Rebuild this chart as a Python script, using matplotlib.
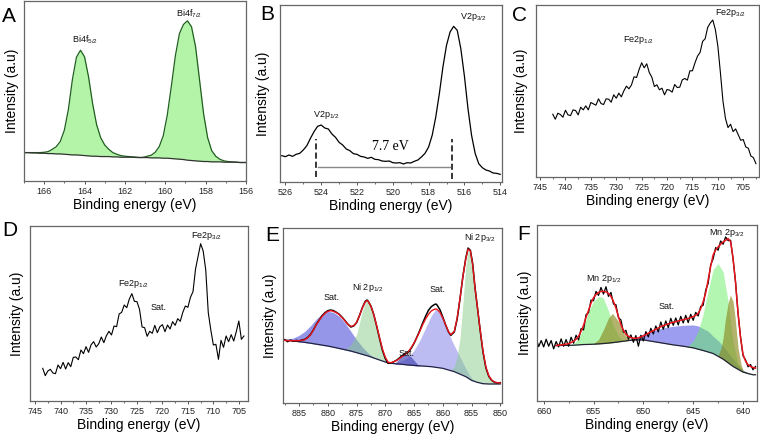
import numpy as np
import matplotlib
matplotlib.use("Agg")
import matplotlib.pyplot as plt
from matplotlib.ticker import MultipleLocator

plt.rcParams['font.family'] = ['Liberation Sans', 'DejaVu Sans']
plt.rcParams['mathtext.fontset'] = 'custom'
plt.rcParams['mathtext.rm'] = 'Liberation Sans'
plt.rcParams['mathtext.default'] = 'rm'

# ---- A: Bi 4f ----
a_x = [167.0, 166.8, 166.6, 166.4, 166.2, 166.0, 165.8, 165.6, 165.4, 165.2,
       165.0, 164.8, 164.6, 164.4, 164.2, 164.0, 163.8, 163.6, 163.4, 163.2,
       163.0, 162.8, 162.6, 162.4, 162.2, 162.0, 161.8, 161.6, 161.4, 161.2,
       161.0, 160.9, 160.7, 160.5, 160.3, 160.1, 159.9, 159.7, 159.5, 159.3,
       159.1, 158.9, 158.7, 158.5, 158.3, 158.1, 157.9, 157.7, 157.5, 157.3,
       157.1, 156.9, 156.7, 156.5, 156.3, 156.1, 156.0]
a_int = [86, 86, 86, 86, 86, 87, 89, 96, 104, 120,
         154, 217, 308, 375, 396, 376, 315, 234, 170, 131,
         109, 96, 86, 81, 77, 75, 74, 73, 72, 71,
         73, 75, 78, 87, 104, 137, 200, 287, 379, 446,
         474, 485, 467, 407, 305, 203, 131, 92, 75, 66,
         61, 59, 58, 57, 56, 56, 56]
a_base = [86, 86, 85, 85, 84, 84, 83, 83, 82, 82,
          81, 80, 79, 79, 78, 77, 76, 75, 75, 74,
          74, 74, 73, 73, 72, 72, 72, 72, 71, 71,
          71, 71, 70, 70, 70, 69, 69, 68, 67, 66,
          65, 63, 62, 61, 60, 59, 59, 58, 58, 58,
          57, 57, 57, 57, 56, 56, 56]

# ---- B: V 2p ----
b_x = np.round(np.arange(526.2, 513.95, -0.2), 1)
b_int = [79, 76, 81, 77, 83, 86, 96, 109, 131, 151,
         167, 171, 162, 159, 144, 134, 119, 111, 99, 94,
         85, 83, 77, 75, 71, 74, 68, 67, 63, 62,
         63, 58, 57, 58, 54, 58, 57, 62, 66, 75,
         86, 105, 140, 195, 265, 345, 410, 450, 467, 455,
         400, 318, 220, 140, 86, 55, 43, 36, 33, 27,
         26, 23]

# ---- C: Fe 2p ----
c_x = np.arange(742.5, 702.4, -0.5)
c_int = [188, 173, 191, 187, 179, 200, 186, 184, 201, 199,
         186, 209, 201, 213, 201, 223, 219, 215, 234, 220,
         217, 234, 233, 224, 246, 236, 251, 240, 258, 272,
         264, 276, 300, 298, 322, 342, 327, 339, 313, 299,
         271, 276, 261, 266, 246, 262, 260, 254, 277, 268,
         269, 291, 295, 290, 318, 318, 342, 362, 373, 406,
         414, 448, 461, 470, 442, 392, 313, 228, 175, 148,
         158, 136, 144, 127, 110, 112, 90, 86, 63, 58,
         40]

# ---- D: Fe 2p ----
d_x = np.arange(743.5, 703.9, -0.5)
d_int = [98, 76, 90, 95, 84, 82, 108, 97, 116, 96,
         115, 103, 131, 132, 124, 153, 142, 163, 146, 169,
         178, 162, 172, 192, 175, 196, 209, 198, 225, 223,
         261, 266, 288, 280, 306, 322, 299, 298, 275, 222,
         220, 194, 209, 203, 227, 205, 223, 229, 208, 228,
         216, 238, 227, 247, 239, 266, 285, 281, 311, 328,
         396, 434, 472, 450, 394, 265, 213, 168, 170, 125,
         182, 161, 195, 178, 199, 180, 208, 240, 185, 195]

# ---- E: Ni 2p ----
e_x = [887.5, 887, 886.5, 886, 885.5, 885, 884.5, 884, 883.5, 883,
       882.5, 882, 881.5, 881, 880.5, 880, 879.5, 879, 878.5, 878,
       877.5, 877, 876.5, 876, 875.5, 875, 874.5, 874, 873.5, 873.2,
       873, 872.5, 872, 871.5, 871, 870.5, 870, 869.5, 869, 868.5,
       868, 867.5, 867, 866.5, 866, 865.5, 865, 864.5, 864, 863.5,
       863, 862.5, 862, 861.5, 861.2, 861, 860.5, 860, 859.5, 859,
       858.6, 858, 857.5, 857, 856.5, 856, 855.6, 855.2, 854.8, 854.4,
       854, 853.5, 853, 852.5, 852, 851.5, 851, 850.5, 850]
e_int = [190, 184, 189, 185, 188, 186, 189, 191, 197, 206,
         220, 236, 249, 262, 271, 277, 279, 277, 272, 266,
         257, 247, 236, 228, 231, 241, 262, 286, 305, 309,
         306, 291, 265, 230, 193, 158, 133, 119, 120, 124,
         129, 136, 143, 149, 153, 164, 179, 198, 218, 240,
         260, 278, 289, 295, 297, 294, 280, 258, 234, 213,
         203, 213, 252, 313, 380, 435, 465, 458, 418, 347,
         290, 218, 152, 105, 80, 68, 62, 60, 61]
e_fit = [188, 187, 187, 187, 187, 187, 188, 190, 196, 205,
         219, 235, 248, 260, 269, 275, 277, 275, 271, 265,
         256, 246, 236, 230, 232, 242, 262, 285, 303, 307,
         305, 290, 265, 232, 196, 162, 137, 122, 121, 124,
         128, 134, 140, 146, 154, 166, 180, 197, 215, 235,
         252, 266, 276, 281, 282, 281, 272, 255, 234, 214,
         205, 215, 255, 315, 380, 432, 462, 456, 415, 345,
         290, 220, 155, 108, 82, 69, 63, 61, 60]
e_bg_x = [887.5, 884, 880, 876, 873, 870, 869.5, 869, 866, 862,
          860, 858, 856, 855, 854, 853, 852, 850]
e_bg = [189, 182, 171, 156, 141, 123, 120, 119, 114, 109,
        104, 94, 79, 68, 62, 58, 57, 57]

# E fitted components: energy, upper edge, background under it
e_sat1_x = [887.5, 886, 885, 884, 883, 882, 881, 880, 879, 878,
            877, 876, 875, 874, 873, 872, 871, 870]
e_sat1_top = [190, 195, 203, 215, 232, 252, 268, 275, 272, 260,
              240, 215, 190, 168, 150, 137, 130, 124]
e_sat1_bot = [189, 186, 183, 181, 179, 176, 173, 170, 167, 163,
              159, 155, 151, 146, 141, 135, 129, 123]
e_p12_x = [877, 876, 875, 874.5, 874, 873.5, 873.2, 873, 872.5, 872,
           871.5, 871, 870.5, 870, 869.5, 869]
e_p12_top = [160, 175, 205, 240, 275, 302, 308, 305, 285, 255,
             218, 183, 153, 133, 122, 119]
e_p12_bot = [159, 155, 151, 149, 146, 144, 142, 141, 138, 135,
             132, 129, 126, 123, 120, 119]
e_sat2_x = [868.5, 868, 867.5, 867, 866.5, 866, 865.5, 865, 864.5, 864]
e_sat2_top = [118, 125, 135, 143, 147, 145, 138, 128, 118, 111]
e_sat2_bot = [118, 117, 117, 116, 115, 114, 113, 112, 111, 111]
e_sat3_x = [868.5, 868, 867, 866, 865, 864, 863, 862, 861.3, 861,
            860.5, 860, 859.5, 859, 858.5, 858, 857.5, 857, 856.5, 856,
            855.5, 855, 854.5, 854, 853.5, 853]
e_sat3_top = [119, 121, 127, 138, 158, 188, 225, 262, 280, 279,
              270, 256, 235, 212, 190, 172, 155, 138, 120, 104,
              88, 75, 67, 62, 59, 57]
e_sat3_bot = [118, 117, 116, 114, 112, 111, 110, 109, 108, 107,
              106, 104, 102, 100, 97, 94, 91, 88, 84, 79,
              74, 68, 65, 62, 60, 58]
e_p32_x = [858.5, 858, 857.5, 857, 856.5, 856, 855.6, 855.2, 855, 854.5,
           854, 853.5, 853, 852.5, 852, 851.5, 851, 850]
e_p32_top = [100, 110, 140, 195, 300, 410, 458, 446, 425, 365,
             295, 220, 150, 105, 80, 66, 60, 57]
e_p32_bot = [97, 94, 91, 88, 84, 79, 75, 70, 68, 65,
             62, 60, 58, 57, 57, 57, 57, 57]

# ---- F: Mn 2p ----
f_x = np.arange(660.75, 638.7, -0.25)
f_int = [188, 164, 182, 163, 186, 165, 182, 157, 179, 163,
         187, 165, 185, 165, 192, 174, 198, 184, 218, 214,
         260, 266, 304, 302, 330, 318, 342, 322, 344, 315,
         327, 292, 290, 251, 244, 207, 213, 186, 199, 177,
         197, 165, 198, 181, 209, 193, 219, 202, 226, 208,
         238, 216, 241, 221, 249, 228, 250, 229, 255, 235,
         258, 236, 261, 243, 267, 256, 285, 288, 334, 354,
         410, 428, 462, 454, 482, 472, 494, 483, 484, 427,
         358, 263, 193, 136, 124, 103, 110, 94, 104]
f_fit_x = np.arange(658.75, 638.7, -0.25)
f_fit = [167, 168, 169, 170, 171, 173, 176, 180, 186, 195,
         210, 228, 252, 273, 295, 311, 321, 327, 330, 330,
         329, 324, 315, 300, 280, 254, 230, 212, 201, 195,
         191, 189, 189, 190, 193, 196, 200, 204, 208, 212,
         216, 220, 224, 227, 230, 232, 235, 237, 239, 241,
         243, 245, 247, 249, 251, 254, 258, 264, 278, 299,
         325, 365, 405, 440, 455, 464, 472, 479, 484, 489,
         480, 430, 355, 265, 190, 140, 120, 109, 104, 101,
         99]
f_bg_x = [658.75, 657, 656, 655, 654, 653, 652, 651, 650, 649,
          648, 647, 646, 645, 644, 643, 642, 641, 640, 639, 638.75]
f_bg = [167, 168, 170, 171, 173, 176, 180, 184, 184, 179,
        174, 169, 165, 160, 152, 143, 126, 104, 87, 79, 79]

f_g1_x = [657.5, 657, 656.5, 656, 655.5, 655, 654.5, 654.25, 654, 653.5,
          653, 652.5, 652, 651.5, 651]
f_g1_top = [169, 173, 188, 222, 270, 300, 314, 314, 309, 272,
            225, 195, 182, 182, 184]
f_g1_bot = [168, 168, 169, 170, 170, 171, 172, 173, 173, 174,
            176, 178, 180, 182, 184]
f_o1_x = [655, 654.5, 654, 653.5, 653.1, 652.5, 652, 651.5, 651, 650.5]
f_o1_top = [173, 185, 215, 250, 264, 240, 205, 188, 185, 184]
f_o1_bot = [171, 172, 173, 174, 176, 178, 180, 182, 184, 184]
f_sat_x = [651.5, 651, 650.5, 650, 649, 648, 647, 646, 645, 644.5,
           644, 643.5, 643, 642.5, 642, 641.5, 641, 640.5, 640, 639.5, 639]
f_sat_top = [183, 188, 195, 202, 212, 220, 225, 228, 229, 226,
             218, 210, 195, 182, 165, 146, 127, 108, 93, 84, 79]
f_sat_bot = [182, 184, 184, 184, 179, 174, 169, 165, 160, 156,
             152, 148, 143, 136, 126, 115, 104, 95, 87, 82, 79]
f_g2_x = [646, 645.5, 645, 644.5, 644, 643.5, 643, 642.5, 642, 641.5,
          641, 640.5, 640, 639.5, 639]
f_g2_top = [166, 167, 180, 211, 262, 332, 396, 414, 389, 300,
            175, 112, 92, 85, 80]
f_g2_bot = [165, 162, 160, 156, 152, 148, 143, 136, 126, 115,
            104, 95, 87, 82, 79]
f_o2_x = [642.5, 642.2, 642, 641.8, 641.5, 641.27, 641, 640.8, 640.5, 640.2,
          640, 639.5, 639]
f_o2_top = [138, 160, 190, 240, 295, 319, 300, 252, 160, 110, 92, 83, 79]
f_o2_bot = [136, 130, 126, 121, 115, 109, 104, 100, 95, 90, 87, 82, 79]

W, H = 760, 437
fig = plt.figure(figsize=(7.6, 4.37), dpi=100)


def make_ax(left, top, right, bottom, xlim, ylim, major, minor, pad):
    ax = fig.add_axes([left / W, 1 - bottom / H, (right - left) / W, (bottom - top) / H])
    ax.set_xlim(*xlim)
    ax.set_ylim(*ylim)
    ax.xaxis.set_major_locator(MultipleLocator(major))
    ax.xaxis.set_minor_locator(MultipleLocator(minor))
    ax.tick_params(axis='x', which='major', direction='out', length=2.5, width=0.7,
                   colors='#555555', labelcolor='#222222', labelsize=6.5, pad=2)
    ax.tick_params(axis='x', which='minor', direction='out', length=1.5, width=0.6,
                   colors='#555555')
    ax.tick_params(axis='y', left=False, labelleft=False)
    for s in ax.spines.values():
        s.set_color('#666666')
        s.set_linewidth(0.9)
    ax.set_xlabel('Binding energy (eV)', fontsize=10, labelpad=1.5)
    ax.set_ylabel('Intensity (a.u)', fontsize=10, labelpad=pad)
    return ax


lab = dict(fontsize=6.5, ha='center', va='center', color='#111111')

# A
ax = make_ax(24, 1, 246, 181, (167, 156), (0, 545), 2, 1, 3.5)
ax.fill_between(a_x, a_base, a_int, color='#b4f4a8', lw=0)
ax.plot(a_x, a_int, color='#1f5f1f', lw=0.9)
ax.plot(a_x, a_base, color='#333333', lw=0.9)
ax.text(163.98, 428, 'Bi4f$_{5/2}$', **lab)
ax.text(158.8, 506, 'Bi4f$_{7/2}$', **lab)

# B
ax = make_ax(280, 5, 502, 182, (526.3, 513.9), (0, 531), 2, 1, 7)
ax.plot(b_x, b_int, color='black', lw=0.9)
ax.plot([524.3, 524.3], [15, 130], color='black', lw=1.1, ls=(0, (4, 2)))
ax.plot([516.7, 516.7], [10, 130], color='black', lw=1.1, ls=(0, (4, 2)))
ax.plot([524.2, 516.8], [45, 45], color='#888888', lw=1.0)
ax.text(520.16, 105, '7.7 eV', fontsize=10, family='Liberation Serif',
        ha='center', va='center')
ax.text(523.7, 200, 'V2p$_{1/2}$', **lab)
ax.text(515.5, 495, 'V2p$_{3/2}$', **lab)

# C
ax = make_ax(536, 5, 759, 177, (745.8, 701.9), (0, 515), 5, 2.5, 6)
ax.plot(c_x, c_int, color='black', lw=0.8)
ax.text(725.6, 410, 'Fe2p$_{1/2}$', **lab)
ax.text(707.5, 490, 'Fe2p$_{3/2}$', **lab)

# D
ax = make_ax(30, 226, 248, 401, (746, 703.2), (0, 525), 5, 2.5, 4.5)
ax.plot(d_x, d_int, color='black', lw=0.8)
ax.text(725.7, 350, 'Fe2p$_{1/2}$', **lab)
ax.text(720.75, 280, 'Sat.', **lab)
ax.text(711.4, 495, 'Fe2p$_{3/2}$', **lab)

# E
ax = make_ax(283, 228, 502, 403, (887.8, 849.7), (0, 525), 5, 2.5, 4.5)
ax.fill_between(e_sat1_x, e_sat1_bot, e_sat1_top, color='#6a6ae0', alpha=0.7, lw=0)
ax.fill_between(e_sat3_x, e_sat3_bot, e_sat3_top, color='#9999ee', alpha=0.65, lw=0)
ax.fill_between(e_sat2_x, e_sat2_bot, e_sat2_top, color='#4a4ab8', alpha=0.7, lw=0)
ax.fill_between(e_p12_x, e_p12_bot, e_p12_top, color='#88cc88', alpha=0.5, lw=0)
ax.fill_between(e_p32_x, e_p32_bot, e_p32_top, color='#88cc88', alpha=0.5, lw=0)
ax.plot(e_bg_x, e_bg, color='#222244', lw=0.9)
ax.plot(e_x, e_int, color='black', lw=1.1)
ax.plot(e_x, e_fit, color='#e8141c', lw=1.0)
ax.text(879.4, 318, 'Sat.', **lab)
ax.text(873.0, 345, 'Ni 2p$_{1/2}$', **lab)
ax.text(861.0, 342, 'Sat.', **lab)
ax.text(866.3, 147, 'Sat.', **lab)
ax.text(853.6, 497, 'Ni 2p$_{3/2}$', **lab)

# F
ax = make_ax(537, 225, 757, 401, (660.67, 638.6), (0, 530), 5, 2.5, 3.5)
ax.fill_between(f_sat_x, f_sat_bot, f_sat_top, color='#5a5ae6', alpha=0.6, lw=0)
ax.fill_between(f_g1_x, f_g1_bot, f_g1_top, color='#66ee66', alpha=0.5, lw=0)
ax.fill_between(f_g2_x, f_g2_bot, f_g2_top, color='#66ee66', alpha=0.5, lw=0)
ax.fill_between(f_o1_x, f_o1_bot, f_o1_top, color='#8a8a20', alpha=0.65, lw=0)
ax.fill_between(f_o2_x, f_o2_bot, f_o2_top, color='#8a8a20', alpha=0.65, lw=0)
ax.plot(f_bg_x, f_bg, color='#222233', lw=0.9)
ax.plot(f_x, f_int, color='black', lw=0.9)
ax.plot(f_fit_x, f_fit, color='#e8141c', lw=1.1)
ax.text(654.0, 368, 'Mn 2p$_{1/2}$', **lab)
ax.text(647.67, 284, 'Sat.', **lab)
ax.text(641.6, 507, 'Mn 2p$_{3/2}$', **lab)

# panel letters
for letter, px, py in [('A', 2, 22), ('B', 260, 20), ('C', 512, 21),
                       ('D', 2, 236), ('E', 265, 241), ('F', 517, 240)]:
    fig.text(px / W, 1 - py / H, letter, fontsize=15, va='baseline', ha='left')

fig.savefig('out.png', dpi=100)
